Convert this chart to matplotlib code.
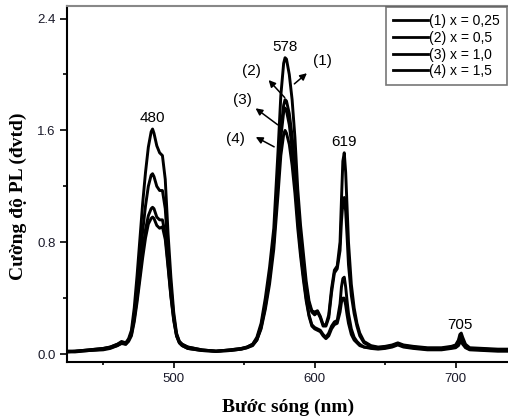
import matplotlib
matplotlib.use('Agg')
import matplotlib.pyplot as plt

plt.rcParams['font.family'] = ['Liberation Sans', 'DejaVu Sans']

# Bước sóng (nm) - lưới chung cho 4 đường
buoc_song = [424, 430, 440, 450, 455, 460, 463, 466, 468,
             470, 472, 474, 476, 478, 480, 482, 484, 485, 486, 488, 490, 492, 494, 496, 498, 500, 502, 504, 506,
             510, 520, 530, 540, 548, 552, 556, 559, 562, 565, 568, 571, 574, 576, 578, 579, 580, 582, 584, 586, 588, 590, 592, 594, 596, 598,
             600, 602, 604, 606, 608, 610, 612, 614, 616, 618, 619, 620, 621, 622, 623, 624, 626, 628, 630, 632, 635,
             640, 645, 650, 655, 659, 663, 670, 680, 690, 697, 700, 702, 703, 704, 705, 707, 710, 720, 730, 740]

# Cường độ PL cho từng mẫu
pl_025 = [0.02, 0.02, 0.03, 0.04, 0.05, 0.07, 0.09, 0.08, 0.11,
          0.17, 0.33, 0.56, 0.82, 1.08, 1.30, 1.48, 1.59, 1.61, 1.58, 1.49, 1.44, 1.42, 1.25, 0.86, 0.55, 0.30, 0.15, 0.09, 0.07,
          0.05, 0.03, 0.02, 0.03, 0.04, 0.05, 0.07, 0.12, 0.22, 0.40, 0.62, 0.90, 1.45, 1.85, 2.08, 2.12, 2.11, 2.00, 1.82, 1.55, 1.18, 0.92, 0.72, 0.52, 0.38, 0.31,
          0.30, 0.31, 0.27, 0.21, 0.21, 0.28, 0.47, 0.60, 0.63, 0.80, 1.10, 1.38, 1.44, 1.30, 1.05, 0.80, 0.50, 0.33, 0.22, 0.15, 0.09,
          0.06, 0.05, 0.055, 0.065, 0.08, 0.065, 0.055, 0.045, 0.045, 0.055, 0.065, 0.10, 0.14, 0.15, 0.12, 0.07, 0.045, 0.04, 0.035, 0.035]

pl_05 = [0.02, 0.02, 0.03, 0.04, 0.05, 0.07, 0.08, 0.08, 0.10,
         0.15, 0.28, 0.46, 0.67, 0.88, 1.06, 1.20, 1.28, 1.29, 1.27, 1.20, 1.17, 1.17, 1.04, 0.74, 0.48, 0.27, 0.14, 0.09, 0.07,
         0.05, 0.03, 0.02, 0.03, 0.04, 0.05, 0.07, 0.11, 0.20, 0.36, 0.56, 0.82, 1.28, 1.60, 1.78, 1.82, 1.81, 1.72, 1.56, 1.34, 1.05, 0.83, 0.65, 0.48, 0.36, 0.30,
         0.28, 0.30, 0.26, 0.20, 0.20, 0.26, 0.44, 0.58, 0.61, 0.74, 0.95, 1.08, 1.12, 1.02, 0.84, 0.64, 0.42, 0.29, 0.20, 0.13, 0.08,
         0.055, 0.045, 0.05, 0.06, 0.075, 0.06, 0.05, 0.04, 0.04, 0.05, 0.06, 0.09, 0.12, 0.13, 0.10, 0.06, 0.04, 0.035, 0.03, 0.03]

pl_10 = [0.015, 0.02, 0.025, 0.035, 0.045, 0.06, 0.08, 0.07, 0.10,
         0.14, 0.25, 0.40, 0.57, 0.74, 0.89, 0.99, 1.04, 1.05, 1.04, 0.98, 0.96, 0.96, 0.86, 0.64, 0.42, 0.25, 0.13, 0.08, 0.06,
         0.04, 0.025, 0.02, 0.025, 0.035, 0.045, 0.065, 0.10, 0.19, 0.34, 0.54, 0.80, 1.24, 1.55, 1.73, 1.76, 1.74, 1.64, 1.47, 1.24, 0.96, 0.74, 0.56, 0.40, 0.28, 0.21,
         0.19, 0.18, 0.17, 0.14, 0.12, 0.15, 0.20, 0.23, 0.24, 0.36, 0.48, 0.54, 0.55, 0.48, 0.38, 0.29, 0.18, 0.12, 0.09, 0.07, 0.05,
         0.045, 0.04, 0.045, 0.055, 0.07, 0.055, 0.045, 0.035, 0.035, 0.045, 0.05, 0.07, 0.09, 0.10, 0.08, 0.05, 0.035, 0.03, 0.025, 0.025]

pl_15 = [0.015, 0.015, 0.025, 0.03, 0.04, 0.06, 0.075, 0.07, 0.09,
         0.13, 0.23, 0.37, 0.53, 0.69, 0.83, 0.93, 0.97, 0.98, 0.97, 0.92, 0.90, 0.91, 0.82, 0.62, 0.41, 0.24, 0.13, 0.08, 0.06,
         0.04, 0.025, 0.02, 0.025, 0.035, 0.045, 0.06, 0.10, 0.18, 0.32, 0.50, 0.75, 1.14, 1.42, 1.57, 1.60, 1.58, 1.50, 1.35, 1.15, 0.90, 0.70, 0.53, 0.38, 0.27, 0.20,
         0.18, 0.17, 0.16, 0.13, 0.11, 0.13, 0.18, 0.21, 0.22, 0.30, 0.37, 0.40, 0.40, 0.35, 0.28, 0.22, 0.14, 0.10, 0.08, 0.06, 0.05,
         0.04, 0.035, 0.04, 0.05, 0.065, 0.05, 0.04, 0.03, 0.03, 0.04, 0.045, 0.06, 0.08, 0.09, 0.07, 0.045, 0.03, 0.025, 0.02, 0.02]

nhan = ['(1) x = 0,25', '(2) x = 0,5', '(3) x = 1,0', '(4) x = 1,5']

# Đỉnh phổ và vị trí nhãn
dinh_ten = ['480', '578', '619', '705']
dinh_x = [484.6, 579, 620.8, 703]
dinh_y = [1.69, 2.2, 1.52, 0.208]

# Nhãn (1)..(4) với mũi tên: vị trí chữ, đầu mũi tên, gốc mũi tên
so_ten = ['(1)', '(2)', '(3)', '(4)']
so_chu = [(605.4, 2.094), (555.3, 2.022), (548.7, 1.82), (543.5, 1.538)]
so_dau = [(596.0, 2.022), (566.0, 1.975), (556.5, 1.77), (556.5, 1.562)]
so_goc = [(584.1, 1.92), (580.1, 1.82), (575.4, 1.628), (573.0, 1.473)]

fig = plt.figure(figsize=(5.08, 4.19), dpi=100)
ax = fig.add_axes([67 / 508, 57 / 419, 445 / 508, 356 / 419])

for y, lb in zip([pl_025, pl_05, pl_10, pl_15], nhan):
    ax.plot(buoc_song, y, color='black', lw=2.1, label=lb)

ax.set_xlim(424.3, 740)
ax.set_ylim(-0.057, 2.49)
ax.set_xticks([500, 600, 700])
ax.set_xticks([450, 550, 650], minor=True)
ax.set_yticks([0.0, 0.8, 1.6, 2.4])
ax.set_yticklabels(['0.0', '0.8', '1.6', '2.4'])
ax.set_yticks([0.4, 1.2, 2.0], minor=True)

ax.tick_params(axis='both', which='major', labelsize=9.5, labelcolor='#1a1a2a', width=1.2)
ax.tick_params(axis='x', which='major', length=4.3, pad=3.5)
ax.tick_params(axis='y', which='major', length=5, pad=3)
ax.tick_params(axis='x', which='minor', length=2.2, width=1.2)
ax.tick_params(axis='y', which='minor', length=2.7, width=1.2)

for s in ['left', 'bottom']:
    ax.spines[s].set_linewidth(1.5)
ax.spines['top'].set_color('#888888')
ax.spines['top'].set_linewidth(1.5)
ax.spines['right'].set_color('#888888')

# Nhãn trục
ax.set_xlabel('Bước sóng (nm)', fontsize=14, fontweight='bold', family='Liberation Serif')
ax.set_ylabel('Cường độ PL (đvtd)', fontsize=14, fontweight='bold', family='Liberation Serif')
ax.xaxis.label.set_va('center')
ax.yaxis.label.set_va('center')
ax.xaxis.set_label_coords(0.497, -0.126)
ax.yaxis.set_label_coords(-0.110, 0.466)

# Nhãn đỉnh
for t, x, y in zip(dinh_ten, dinh_x, dinh_y):
    ax.text(x, y, t, fontsize=11, ha='center', va='center')

# Nhãn mẫu có mũi tên
for t, c, d, g in zip(so_ten, so_chu, so_dau, so_goc):
    ax.text(c[0], c[1], t, fontsize=11, ha='center', va='center')
    ax.annotate('', xy=d, xytext=g,
                arrowprops=dict(arrowstyle='-|>', color='black', lw=1.1, mutation_scale=10))

leg = ax.legend(loc='upper left', bbox_to_anchor=(0.717, 0.997), borderaxespad=0,
                prop={'size': 10}, fancybox=False,
                handlelength=2.5, handletextpad=0.1, labelspacing=0.2, borderpad=0.5)
leg.get_frame().set_edgecolor('#555555')
leg.get_frame().set_linewidth(1.2)
for h in leg.get_lines():
    h.set_linewidth(2)

plt.savefig('out.png', dpi=100)
